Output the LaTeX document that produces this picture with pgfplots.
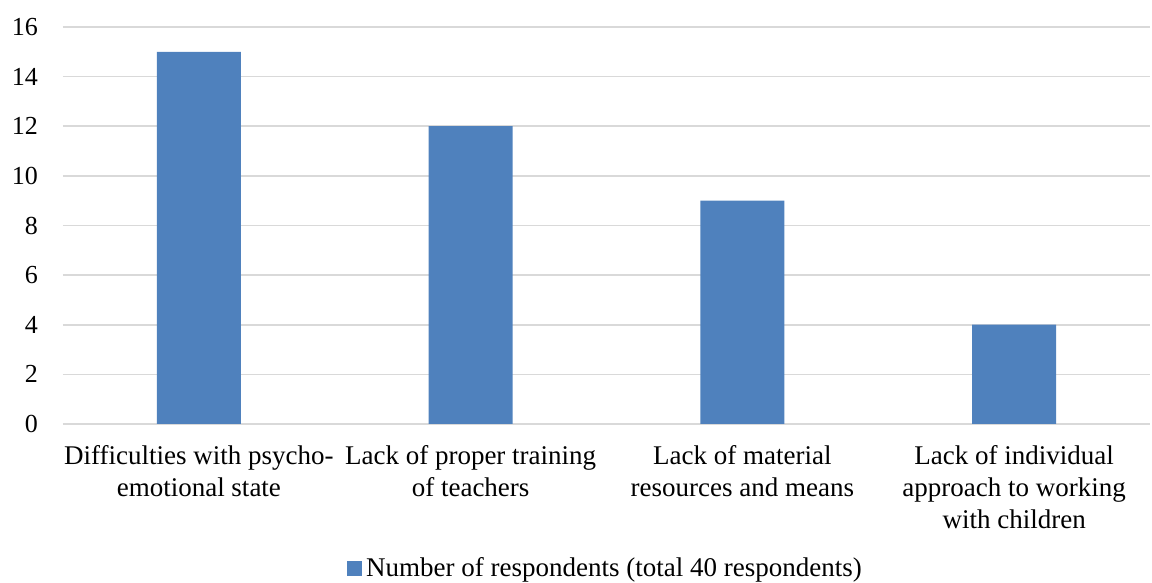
\documentclass[border=0pt]{standalone}
\usepackage{pgfplots}
\pgfplotsset{compat=1.18}
\usepackage{fontspec}
\setmainfont{Liberation Serif}
\definecolor{barblue}{HTML}{4F81BD}
\definecolor{gridgray}{HTML}{D9D9D9}
\begin{document}
\begin{tikzpicture}
\begin{axis}[
  scale only axis,
  width=543.5pt, height=198.5pt,
  ybar, bar width=42pt,
  xmin=-0.5, xmax=3.5,
  ymin=0, ymax=16,
  ytick={0,2,...,16},
  xtick=data,
  xticklabels={{Difficulties with psycho-\\emotional state},{Lack of proper training\\of teachers},{Lack of material\\resources and means},{Lack of individual\\approach to working\\with children}},
  xticklabel style={align=center, font=\fontsize{13.5}{16}\selectfont, yshift=-7pt},
  yticklabel style={font=\fontsize{13}{16}\selectfont, xshift=-9pt},
  /pgf/number format/assume math mode=true,
  axis line style={draw=none},
  axis x line*=bottom,
  x axis line style={draw=gridgray, line width=1pt},
  ymajorgrids, grid style={gridgray, line width=0.8pt},
  major tick length=0pt,
  legend style={draw=none, at={(0.5,0)}, anchor=center, yshift=-72pt, font=\fontsize{13.5}{16}\selectfont, legend cell align=left, inner sep=0pt},
  legend image code/.code={\fill[barblue] (0pt,-3.75pt) rectangle (7.5pt,3.75pt);},
]
\addplot[fill=barblue, draw=none] coordinates {(0,15) (1,12) (2,9) (3,4)};
\addlegendentry{Number of respondents (total 40 respondents)}
\coordinate (bl) at (rel axis cs:0,0);
\coordinate (tr) at (rel axis cs:1,1);
\end{axis}
\pgfresetboundingbox
\path[use as bounding box] ([xshift=-31.5pt, yshift=-79.5pt]bl) rectangle ([xshift=1pt, yshift=13.5pt]tr);
\end{tikzpicture}
\end{document}
